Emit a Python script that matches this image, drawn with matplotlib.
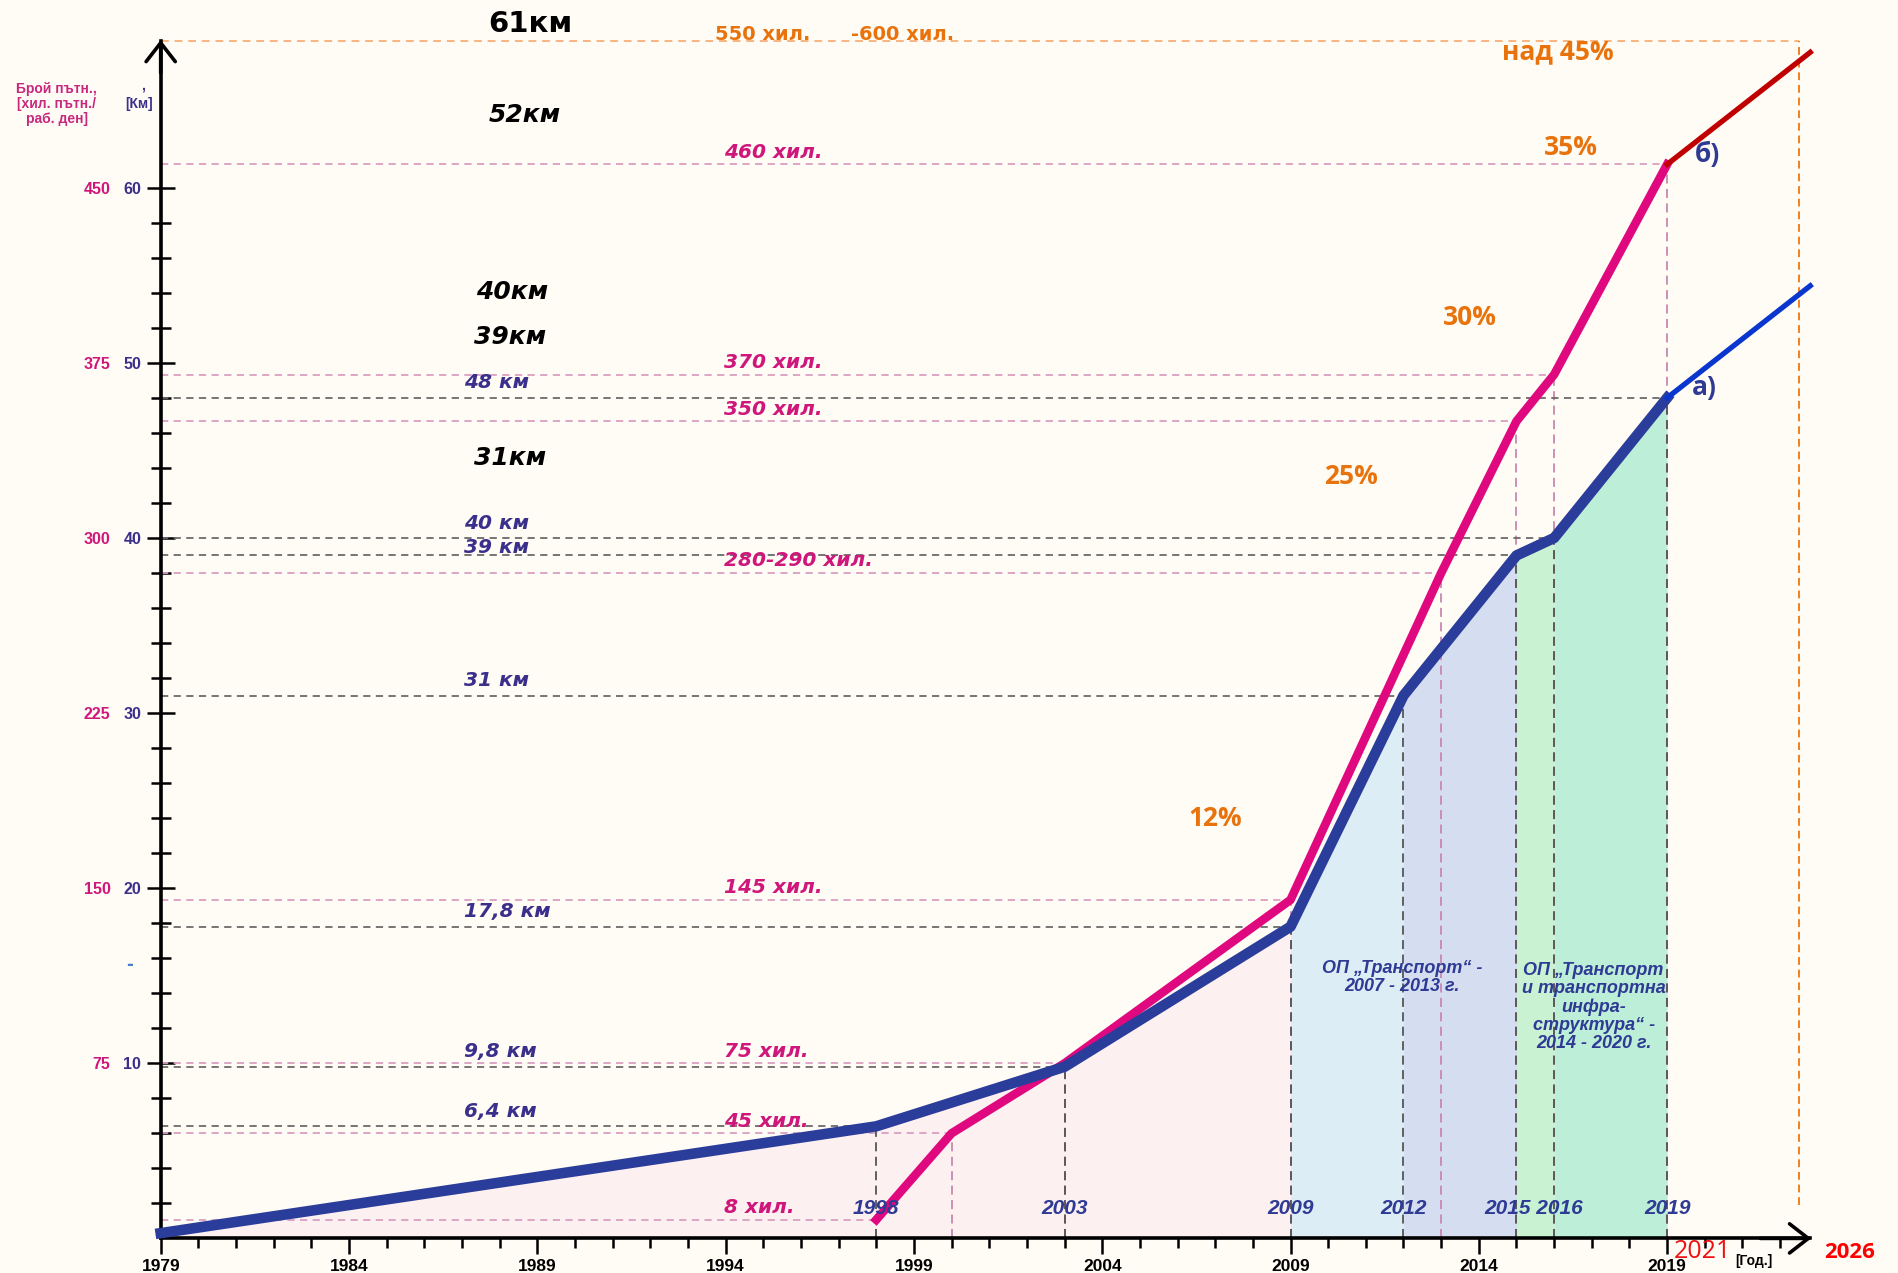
import numpy as np
import matplotlib
matplotlib.use('Agg')
import matplotlib.pyplot as plt
from matplotlib.ticker import FixedLocator

# --- данни ---
metro_years = [1979, 1998, 2003, 2009, 2012, 2015, 2016, 2019]
metro_km = [0.3, 6.4, 9.8, 17.8, 31, 39, 40, 48]
metro_labels = ['', '6,4 км', '9,8 км', '17,8 км', '31 км', '39 км', '40 км', '48 км']

pass_years = [1998, 2000, 2003, 2009, 2013, 2015, 2016, 2019]
pass_k = [8, 45, 75, 145, 285, 350, 370, 460]      # хил. пътници / раб. ден
pass_labels = ['8 хил.', '45 хил.', '75 хил.', '145 хил.', '280-290 хил.',
               '350 хил.', '370 хил.', '460 хил.']

proj_years = [2019, 2022.8]
proj_km = [48, 54.4]
proj_pass = [460, 508]

km_per_pass = 1 / 7.5          # 450 хил. <-> 60 км
top_km = 68.4                  # оранжевата линия отгоре
limit_year = 2022.5

point_years = ['1998', '2003', '2009', '2012', '2015 2016', '2019']
point_year_x = [1998, 2003, 2009, 2012, 2015.45, 2019]

percents = ['12%', '25%', '30%', '35%', 'над 45%']
percent_xy = [(2007.0, 24.0), (2010.6, 43.5), (2013.75, 52.6), (2016.45, 62.3), (2016.1, 67.75)]

old_labels = ['52км', '40км', '39км', '31км']
old_xy = [(1988.66, 64.15), (1988.34, 54.06), (1988.27, 51.5), (1988.27, 44.58)]

op_periods = [(1979, 2009, '#fcf0f0'), (2009, 2012, '#dcedf6'), (2012, 2015, '#d4def0'),
              (2015, 2016, '#c8f2d2'), (2016, 2019, '#bdeed8')]

BG = '#fffbf5'
BLUE = '#2b3d9b'
PINK = '#e0087f'
PINK_TXT = '#cf167b'
KM_TXT = '#3b2f8c'
YEAR_TXT = '#2e3a94'
ORANGE = '#e8730c'

fig = plt.figure(figsize=(18.99, 12.73), dpi=100)
fig.patch.set_facecolor(BG)
ax = fig.add_axes([0, 0, 1, 1])
ax.set_facecolor(BG)
ax.set_xlim(1974.733, 2025.157)
ax.set_ylim(-1.976, 70.72)

# оси
for s in ['top', 'right']:
    ax.spines[s].set_visible(False)
ax.spines['left'].set_position(('data', 1979))
ax.spines['bottom'].set_position(('data', 0))
ax.spines['left'].set_bounds(0, top_km)
ax.spines['bottom'].set_bounds(1979, 2022.8)
ax.spines['left'].set_linewidth(2.6)
ax.spines['bottom'].set_linewidth(2.6)
arr = dict(arrowstyle='->,head_length=0.45,head_width=0.35', lw=2.6, color='k', mutation_scale=30)
ax.annotate('', xy=(1979, top_km + 0.2), xytext=(1979, top_km - 2), arrowprops=arr, annotation_clip=False)
ax.annotate('', xy=(2022.9, 0), xytext=(2021.4, 0), arrowprops=arr, annotation_clip=False)

ax.set_yticks(range(10, 61, 10), labels=[str(v) for v in range(10, 61, 10)],
              fontweight='bold', fontsize=11.5, color=KM_TXT, family='Liberation Sans')
ax.yaxis.set_minor_locator(FixedLocator([v for v in range(2, 60, 2) if v % 10]))
ax.tick_params(axis='y', which='major', direction='inout', length=20, width=1.8, pad=4)
ax.tick_params(axis='y', which='minor', direction='inout', length=15, width=1.8)

ax.set_xticks(range(1979, 2020, 5), labels=[str(v) for v in range(1979, 2020, 5)],
              fontweight='bold', fontsize=12.5, family='Liberation Sans')
ax.xaxis.set_minor_locator(FixedLocator(range(1980, 2023)))
ax.tick_params(axis='x', which='major', direction='out', length=11.5, width=1.8, pad=3)
ax.tick_params(axis='x', which='minor', direction='out', length=7, width=1.8)

loc = (1979 - ax.get_xlim()[0]) / (ax.get_xlim()[1] - ax.get_xlim()[0])
sec = ax.secondary_yaxis(loc, functions=(lambda k: k / km_per_pass, lambda p: p * km_per_pass))
sec.spines['left'].set_visible(False)
sec.set_yticks(range(75, 451, 75), labels=[str(v) for v in range(75, 451, 75)],
               fontweight='bold', fontsize=11.5, color=PINK_TXT, family='Liberation Sans')
sec.tick_params(length=0, pad=36)

# запълване по програмни периоди
yrs = np.array(metro_years, dtype=float)
kms = np.array(metro_km, dtype=float)
for a, b, c in op_periods:
    m = (yrs >= a) & (yrs <= b)
    ax.fill_between(yrs[m], 0, kms[m], color=c, lw=0, zorder=1)

# помощни пунктирни линии
pass_km = [p * km_per_pass for p in pass_k]
for x, y in zip(pass_years, pass_km):
    ax.plot([1979, x], [y, y], color='#d9a0c2', lw=1.3, dashes=(4, 3), zorder=2)
    ax.plot([x, x], [0, y], color='#c987b0', lw=1.3, dashes=(5, 3), zorder=2)
for x, y in zip(metro_years[1:], metro_km[1:]):
    ax.plot([1979, x], [y, y], color='#6a6a6a', lw=1.3, dashes=(4, 3), zorder=2)
    ax.plot([x, x], [0, y], color='#555555', lw=1.3, dashes=(5, 3), zorder=2)
ax.plot([1979, limit_year], [top_km, top_km], color='#f7b580', lw=1.4, dashes=(4, 3), zorder=2)
ax.plot([limit_year, limit_year], [1.9, top_km], color='#f08020', lw=1.4, dashes=(4, 2.5), zorder=2)

# линии
ax.plot(pass_years, pass_km, color=PINK, lw=6.2, solid_joinstyle='round', zorder=4)
ax.plot(metro_years, metro_km, color=BLUE, lw=7.6, solid_joinstyle='round', zorder=5)
ax.plot(proj_years, [p * km_per_pass for p in proj_pass], color='#c00000', lw=3.8, zorder=6)
ax.plot(proj_years, proj_km, color='#0a36d0', lw=3.8, zorder=6)

# надписи
for y, t in zip(pass_km, pass_labels):
    ax.text(1993.95, y + 0.15, t, color=PINK_TXT, fontsize=14.5, fontweight='bold',
            style='italic', va='bottom', ha='left', zorder=7)
for y, t in zip(metro_km[1:], metro_labels[1:]):
    dy = 0.45 if t == '39 км' else 0.85
    ax.text(1987.05, y + dy, t, color=KM_TXT, fontsize=14.5, fontweight='bold',
            style='italic', va='center', ha='left', zorder=7)
for x, t in zip(point_year_x, point_years):
    ax.text(x, 1.7, t, color=YEAR_TXT, fontsize=15, fontweight='bold', style='italic',
            family='Liberation Sans', ha='center', va='center', zorder=7)
for (x, y), t in zip(percent_xy, percents):
    ax.text(x, y, t, color=ORANGE, fontsize=19, fontweight='bold', family='Open Sans',
            ha='center', va='center', zorder=7)
for (x, y), t in zip(old_xy, old_labels):
    ax.text(x, y, t, color='k', fontsize=18, fontweight='bold', style='italic',
            ha='center', va='center', zorder=7)
ax.text(1988.82, 69.34, '61км', color='k', fontsize=21, fontweight='bold', ha='center', va='center')
ax.text(1994.99, 68.75, '550 хил.', color=ORANGE, fontsize=14, fontweight='bold', ha='center', va='center')
ax.text(1998.69, 68.75, '-600 хил.', color=ORANGE, fontsize=14, fontweight='bold', ha='center', va='center')

ax.text(2020.08, 61.9, 'б)', color=YEAR_TXT, fontsize=19, fontweight='bold', family='Open Sans',
        ha='center', va='center')
ax.text(2020.0, 48.6, 'а)', color=YEAR_TXT, fontsize=19, fontweight='bold', family='Open Sans',
        ha='center', va='center')

ax.text(2011.97, 14.9, 'ОП „Транспорт“ -\n2007 - 2013 г.', color=YEAR_TXT, fontsize=13,
        fontweight='bold', style='italic', family='Liberation Sans', ha='center', va='center',
        linespacing=1.08, zorder=7)
ax.text(2017.05, 13.2, 'ОП „Транспорт\nи транспортна\nинфра-\nструктура“ -\n2014 - 2020 г.',
        color=YEAR_TXT, fontsize=13, fontweight='bold', style='italic', family='Liberation Sans',
        ha='center', va='center', linespacing=1.08, zorder=7)

ax.text(1976.24, 64.78, 'Брой пътн.,\n[хил. пътн./\nраб. ден]', color='#c8287e', fontsize=10,
        fontweight='bold', family='Liberation Sans', ha='center', va='center', linespacing=1.1)
ax.text(1978.43, 64.78, '[Км]', color=KM_TXT, fontsize=10, fontweight='bold',
        family='Liberation Sans', ha='center', va='center')
ax.text(1978.53, 65.85, ',', color=KM_TXT, fontsize=10, fontweight='bold',
        family='Liberation Sans', ha='center', va='center')
ax.text(1978.17, 15.6, '-', color='#4a7acc', fontsize=12, fontweight='bold',
        ha='center', va='center')

ax.text(2019.95, -0.72, '2021', color='#ee1111', fontsize=18, family='Open Sans',
        ha='center', va='center', zorder=8)
ax.text(2021.3, -1.28, '[Год.]', color='k', fontsize=10, fontweight='bold',
        family='Liberation Sans', ha='center', va='center')
ax.text(2023.84, -0.79, '2026', color='#ff0000', fontsize=16, fontweight='bold',
        family='Open Sans', ha='center', va='center')

fig.savefig('out.png', dpi=100, facecolor=BG)
